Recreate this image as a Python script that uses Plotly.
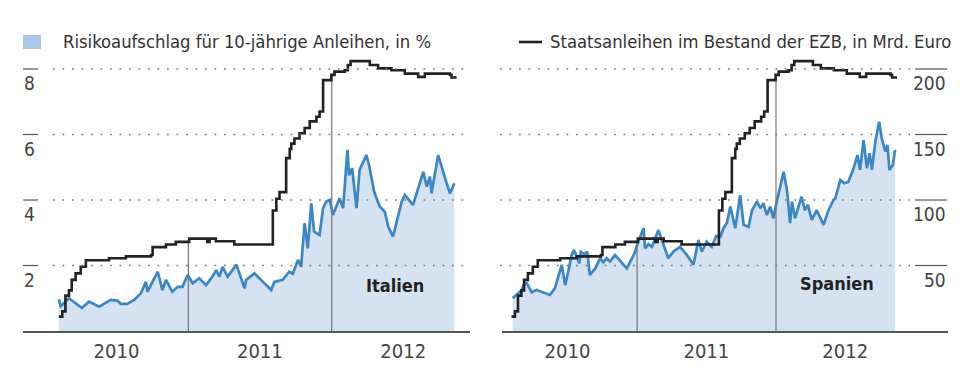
import plotly.graph_objects as go

# ---------------- data ----------------
italy_dates = ["2010-02-05","2010-02-10","2010-03-03","2010-04-05","2010-04-23","2010-05-19","2010-06-17","2010-07-04",
               "2010-07-13","2010-07-29","2010-08-16","2010-09-02","2010-09-15","2010-09-19","2010-10-15","2010-10-27",
               "2010-11-05","2010-11-21","2010-12-05","2010-12-17","2010-12-30","2011-01-12","2011-01-29","2011-02-15",
               "2011-03-03","2011-03-13","2011-03-21","2011-03-29","2011-04-11","2011-04-24","2011-05-03","2011-05-11",
               "2011-05-24","2011-05-28","2011-06-18","2011-07-10","2011-07-31","2011-08-08","2011-08-29","2011-09-15",
               "2011-09-24","2011-10-07","2011-10-15","2011-10-24","2011-11-01","2011-11-10","2011-11-17","2011-12-01",
               "2011-12-10","2011-12-18","2011-12-27","2012-01-04","2012-01-21","2012-01-30","2012-02-10","2012-02-14",
               "2012-02-22","2012-03-04","2012-03-12","2012-03-29","2012-04-05","2012-04-18","2012-05-02","2012-05-15",
               "2012-05-24","2012-06-05","2012-06-27","2012-07-05","2012-07-26","2012-08-21","2012-08-30","2012-09-07",
               "2012-09-11","2012-09-28","2012-10-07","2012-10-17","2012-10-28","2012-11-08"]
italy_spread = [0.97,0.76,1.00,0.70,0.90,0.74,0.95,0.93,
                0.83,0.83,0.95,1.15,1.50,1.20,1.81,1.25,
                1.56,1.20,1.35,1.35,1.71,1.46,1.61,1.40,
                1.66,1.86,1.66,1.96,1.66,1.86,2.02,1.76,
                1.30,1.56,1.76,1.50,1.25,1.50,1.56,1.81,
                1.75,2.17,1.96,3.29,2.52,3.90,3.03,2.93,
                3.75,3.95,4.00,3.54,4.05,3.75,5.53,4.76,
                4.97,3.75,4.92,5.37,5.07,4.25,3.80,3.64,
                3.18,2.88,3.95,4.15,3.85,4.86,4.41,4.71,
                4.20,5.37,4.97,4.61,4.20,4.51]

spain_dates = ["2010-02-08","2010-02-23","2010-03-04","2010-03-08","2010-03-17","2010-03-30","2010-04-12","2010-05-17",
               "2010-05-30","2010-06-17","2010-06-26","2010-07-04","2010-07-13","2010-07-19","2010-07-26","2010-08-02",
               "2010-08-06","2010-08-15","2010-08-23","2010-08-30","2010-09-13","2010-09-26","2010-10-04","2010-10-13",
               "2010-10-22","2010-11-04","2010-12-05","2010-12-27","2011-01-04","2011-01-18","2011-01-22","2011-01-31",
               "2011-02-09","2011-02-26","2011-03-11","2011-03-24","2011-04-06","2011-04-24","2011-05-12","2011-05-29",
               "2011-06-11","2011-06-20","2011-07-03","2011-07-16","2011-07-28","2011-08-08","2011-08-16","2011-08-25",
               "2011-09-03","2011-09-16","2011-09-29","2011-10-08","2011-10-21","2011-10-30","2011-11-12","2011-11-21",
               "2011-11-29","2011-12-08","2011-12-17","2011-12-25","2012-01-03","2012-01-12","2012-01-21","2012-01-30",
               "2012-02-07","2012-02-12","2012-02-20","2012-03-08","2012-03-17","2012-03-25","2012-04-04","2012-04-17",
               "2012-05-05","2012-05-18","2012-05-31","2012-06-05","2012-06-18","2012-06-28","2012-07-09","2012-07-23",
               "2012-08-02","2012-08-09","2012-08-18","2012-08-27","2012-09-03","2012-09-09","2012-09-18","2012-09-28",
               "2012-10-05","2012-10-14","2012-10-20","2012-10-25","2012-11-03","2012-11-09"]
spain_spread = [1.00,1.15,1.25,1.40,1.46,1.18,1.25,1.10,
                1.30,2.02,1.40,1.81,2.32,2.47,2.30,2.07,
                2.42,2.35,2.42,1.71,1.91,2.22,2.10,2.22,
                2.12,2.32,1.91,2.42,2.73,3.14,2.52,2.65,
                2.57,3.08,2.63,2.22,2.42,2.57,2.32,2.02,
                2.78,2.42,2.73,2.57,2.90,2.88,3.14,3.30,
                3.80,3.14,4.15,3.24,3.18,3.69,3.95,3.75,
                3.90,3.54,3.80,3.44,3.95,4.46,4.86,4.30,
                3.29,3.95,3.44,4.10,3.69,3.85,3.39,3.69,
                3.24,3.69,4.00,4.05,4.61,4.51,4.55,4.97,
                5.37,4.92,5.83,4.97,5.43,4.92,5.78,6.39,
                5.88,5.48,5.68,4.92,5.07,5.53]

ecb_dates = ["2010-02-05","2010-02-14","2010-02-22","2010-03-03","2010-03-10","2010-03-20","2010-04-02","2010-04-15",
             "2010-06-13","2010-07-26","2010-09-28","2010-10-02","2010-11-05","2010-11-30","2011-01-03","2011-02-18",
             "2011-02-24","2011-03-12","2011-04-28","2011-08-04","2011-08-13","2011-08-21","2011-09-07","2011-09-16",
             "2011-09-20","2011-09-28","2011-10-11","2011-10-24","2011-11-06","2011-11-23","2011-12-01","2011-12-10",
             "2011-12-31","2012-01-08","2012-02-03","2012-02-11","2012-02-18","2012-04-07","2012-04-28","2012-06-01",
             "2012-07-05","2012-08-08","2012-08-25","2012-10-28","2012-11-01","2012-11-14"]
ecb_holdings = [11,15,27,31,39,44,49,54,
                55.5,57,58,64,66,68,70.5,68,
                70.5,68.5,66,92,101,106,132,139,
                143,147,151,155,160,163.5,167.5,191.5,
                195.5,198,199,203,206,203,200.5,199,
                196.5,194,196.5,195.5,193.5,193.5]

year_labels = ["2010", "2011", "2012"]
year_label_dates = ["2010-07-02", "2011-07-02", "2012-07-01"]
year_boundaries = ["2011-01-01", "2012-01-01"]
left_ticks = [2, 4, 6, 8]
right_ticks = [50, 100, 150, 200]

legend_left = "Risikoaufschlag für 10-jährige Anleihen, in %"
legend_right = "Staatsanleihen im Bestand der EZB, in Mrd. Euro"

# ---------------- style ----------------
W, H = 968, 373
FONT = "DejaVu Sans Condensed, Liberation Sans Narrow, Roboto, sans-serif"
BLUE = "#3a87c6"
FILL = "#d5e2f2"
BLACK = "#222222"
GRID = "#777777"
TXT = "#444444"

def px_x(p):
    return p / W

def px_y(p):
    return 1 - p / H

def step_value(dates, vals, d):
    v = vals[0]
    for dd, vv in zip(dates, vals):
        if dd <= d:
            v = vv
    return v

Y_DOM = [px_y(331), px_y(50)]
Y_MAX = 8.58
Y2_MAX = Y_MAX * 25

fig = go.Figure()

panels = [
    dict(x="x", y="y", y2="y2", dates=italy_dates, vals=italy_spread, label="Italien"),
    dict(x="x2", y="y3", y2="y4", dates=spain_dates, vals=spain_spread, label="Spanien"),
]

for p in panels:
    fig.add_trace(go.Scatter(x=p["dates"], y=p["vals"], xaxis=p["x"], yaxis=p["y"], mode="lines",
                             fill="tozeroy", fillcolor=FILL, line=dict(color=BLUE, width=2.7),
                             hoverinfo="skip"))
    for yb in year_boundaries:
        top = step_value(ecb_dates, ecb_holdings, yb)
        fig.add_trace(go.Scatter(x=[yb, yb], y=[0, top], xaxis=p["x"], yaxis=p["y2"], mode="lines",
                                 line=dict(color="#777777", width=1.2), hoverinfo="skip"))
    fig.add_trace(go.Scatter(x=ecb_dates, y=ecb_holdings, xaxis=p["x"], yaxis=p["y2"], mode="lines",
                             line=dict(color=BLACK, width=2.6, shape="hv"), hoverinfo="skip"))

xcommon = dict(type="date", showgrid=False, zeroline=False, showline=True, linecolor="#555555", linewidth=1.5,
               tickmode="array", tickvals=year_label_dates, ticktext=year_labels, ticks="",
               tickfont=dict(family=FONT, size=20, color=TXT), ticklabelstandoff=1)
ycommon = dict(visible=False, showgrid=False, zeroline=False, fixedrange=True)

fig.update_layout(
    width=W, height=H, margin=dict(l=0, r=0, t=0, b=0),
    paper_bgcolor="white", plot_bgcolor="white", showlegend=False,
    font=dict(family=FONT, color=TXT),
    xaxis=dict(domain=[px_x(23), px_x(470)], range=["2009-11-06", "2012-12-18"], anchor="y", **xcommon),
    yaxis=dict(domain=Y_DOM, range=[0, Y_MAX], anchor="x", **ycommon),
    yaxis2=dict(overlaying="y", range=[0, Y2_MAX], anchor="x", **ycommon),
    xaxis2=dict(domain=[px_x(502), px_x(948)], range=["2010-01-11", "2013-03-28"], anchor="y3", **xcommon),
    yaxis3=dict(domain=Y_DOM, range=[0, Y_MAX], anchor="x2", **ycommon),
    yaxis4=dict(overlaying="y3", range=[0, Y2_MAX], anchor="x2", side="right", **ycommon),
)

shapes = []
annotations = []
grid_line = dict(color=GRID, width=1.7, dash="1.7px,7.8px")

for v in left_ticks:
    shapes.append(dict(type="line", xref="paper", yref="y", x0=px_x(53), x1=px_x(465), y0=v, y1=v,
                       line=grid_line, layer="above"))
    shapes.append(dict(type="line", xref="paper", yref="y", x0=px_x(23), x1=px_x(38), y0=v, y1=v,
                       line=dict(color="#555555", width=1.2)))
    annotations.append(dict(text=str(v), xref="paper", yref="y", x=px_x(22), y=v, xanchor="left",
                            yanchor="middle", yshift=-14, showarrow=False,
                            font=dict(family=FONT, size=19, color=TXT)))

for v in right_ticks:
    shapes.append(dict(type="line", xref="paper", yref="y4", x0=px_x(500), x1=px_x(910), y0=v, y1=v,
                       line=grid_line, layer="above"))
    shapes.append(dict(type="line", xref="paper", yref="y4", x0=px_x(915), x1=px_x(947), y0=v, y1=v,
                       line=dict(color="#555555", width=1.2)))
    annotations.append(dict(text=str(v), xref="paper", yref="y4", x=px_x(948), y=v, xanchor="right",
                            yanchor="middle", yshift=-14, showarrow=False,
                            font=dict(family=FONT, size=19, color=TXT)))

# legend
shapes.append(dict(type="rect", xref="paper", yref="paper", x0=px_x(23), x1=px_x(41), y0=px_y(49), y1=px_y(35),
                   fillcolor="#a9c6e7", line=dict(width=0)))
annotations.append(dict(text=legend_left, xref="paper", yref="paper", x=px_x(61), y=px_y(42),
                        xanchor="left", yanchor="middle", showarrow=False,
                        font=dict(family=FONT, size=18.3, color="#333333")))
shapes.append(dict(type="line", xref="paper", yref="paper", x0=px_x(519), x1=px_x(542), y0=px_y(42), y1=px_y(42),
                   line=dict(color=BLACK, width=2.6)))
annotations.append(dict(text=legend_right, xref="paper", yref="paper", x=px_x(548), y=px_y(42),
                        xanchor="left", yanchor="middle", showarrow=False,
                        font=dict(family=FONT, size=18.3, color="#333333")))

# panel labels
annotations.append(dict(text="<b>Italien</b>", xref="x", yref="y", x="2012-06-10", y=1.40, showarrow=False,
                        font=dict(family=FONT, size=18, color=BLACK)))
annotations.append(dict(text="<b>Spanien</b>", xref="x2", yref="y3", x="2012-06-10", y=1.46, showarrow=False,
                        font=dict(family=FONT, size=18, color=BLACK)))

fig.update_layout(shapes=shapes, annotations=annotations)
fig.write_html("out.html",
               config={"displayModeBar": False, "staticPlot": True},
               post_script="document.body.style.margin='0';document.body.style.padding='0';"
                           "document.body.style.overflow='hidden';")
